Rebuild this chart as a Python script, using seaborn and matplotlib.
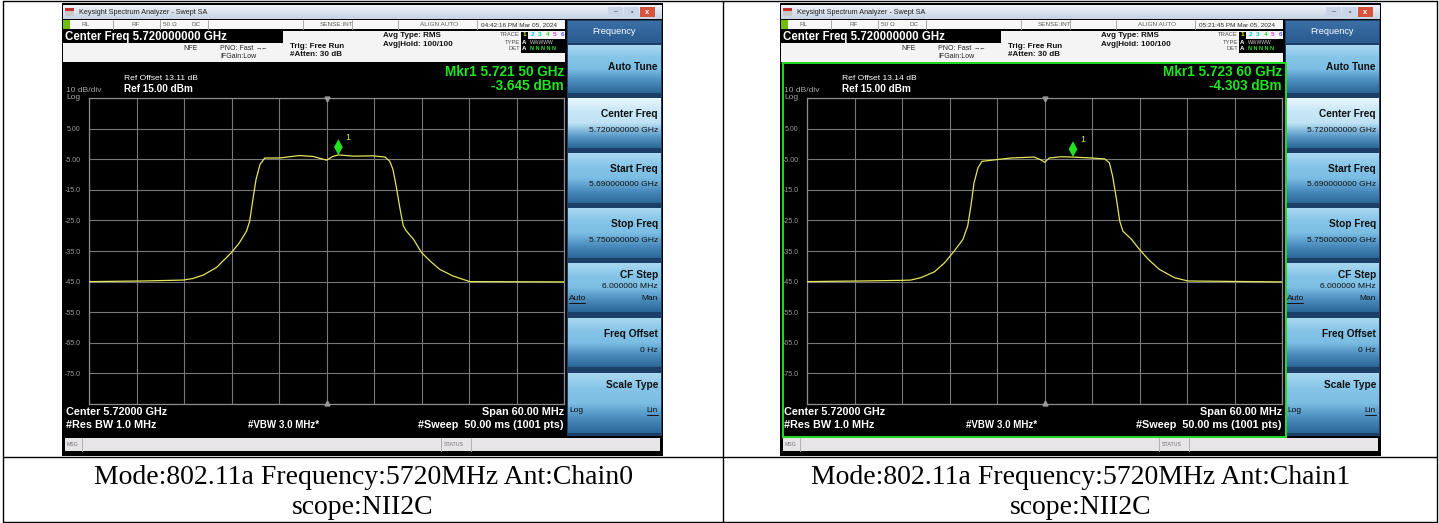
import numpy as np
import matplotlib.pyplot as plt
import seaborn as sns
from matplotlib.colors import LinearSegmentedColormap
from matplotlib.patches import Rectangle, Polygon

# ===============================
# data
# ===============================
freq_ch0 = [5690.0, 5696.8, 5701.9, 5703.1, 5704.4, 5706.1, 5708.0, 5709.0, 5709.9, 5710.3,
            5710.7, 5711.1, 5711.6, 5712.2, 5714.1, 5716.6, 5718.3, 5720.0, 5720.8, 5721.5,
            5723.4, 5725.9, 5727.4, 5728.0, 5728.4, 5728.8, 5729.3, 5729.7, 5730.1, 5731.0,
            5732.0, 5733.1, 5734.3, 5736.0, 5738.1, 5750.0]
level_ch0 = [-45.0, -44.8, -44.5, -44.0, -42.9, -40.4, -35.5, -32.3, -28.5, -25.2,
             -18.2, -11.6, -6.7, -4.6, -4.6, -3.8, -4.1, -5.3, -4.1, -3.6,
             -4.0, -3.9, -4.3, -5.7, -8.4, -13.8, -21.4, -26.8, -28.5, -31.2,
             -35.5, -38.3, -41.0, -43.2, -45.0, -45.1]

freq_ch1 = [5690.0, 5696.8, 5701.9, 5703.1, 5704.4, 5706.1, 5707.4, 5708.6, 5709.7, 5710.3,
            5710.7, 5711.1, 5711.6, 5712.1, 5714.1, 5715.8, 5718.7, 5719.6, 5720.0, 5720.6,
            5722.1, 5723.6, 5725.9, 5727.6, 5728.2, 5728.6, 5729.1, 5729.5, 5729.9, 5731.0,
            5732.0, 5733.1, 5734.5, 5736.4, 5738.1, 5750.0]
level_ch1 = [-45.0, -44.8, -44.6, -44.5, -43.7, -41.8, -38.8, -35.0, -31.2, -26.8,
             -20.3, -12.7, -7.8, -5.7, -5.1, -4.6, -4.3, -5.3, -6.0, -4.6,
             -4.2, -4.3, -4.6, -4.9, -6.2, -10.5, -18.2, -25.2, -28.5, -31.2,
             -34.5, -37.7, -41.0, -43.7, -44.8, -45.1]

marker_ch0 = (5721.5, -3.645)
marker_ch1 = (5723.6, -4.303)

y_ticks = [15, 5, -5, -15, -25, -35, -45, -55, -65, -75, -85]
y_tick_labels = ["", "5.00", "-5.00", "-15.0", "-25.0", "-35.0", "-45.0", "-55.0", "-65.0", "-75.0", ""]
x_ticks = [5690, 5696, 5702, 5708, 5714, 5720, 5726, 5732, 5738, 5744, 5750]

clocks = ["04:42:16 PM Mar 05, 2024", "05:21:45 PM Mar 05, 2024"]
ref_offsets = ["Ref Offset 13.11 dB", "Ref Offset 13.14 dB"]
mkr_freqs = ["Mkr1 5.721 50 GHz", "Mkr1 5.723 60 GHz"]
mkr_levels = ["-3.645 dBm", "-4.303 dBm"]
captions = ["Mode:802.11a Frequency:5720MHz Ant:Chain0", "Mode:802.11a Frequency:5720MHz Ant:Chain1"]
scope_text = "scope:NII2C"

softkeys = [("Auto Tune", None), ("Center Freq", "5.720000000 GHz"), ("Start Freq", "5.690000000 GHz"),
            ("Stop Freq", "5.750000000 GHz"), ("CF Step", "6.000000 MHz"), ("Freq Offset", "0 Hz"),
            ("Scale Type", None)]

# ===============================
# figure
# ===============================
sns.set_style("white")
plt.rcParams['font.family'] = ['Liberation Sans', 'DejaVu Sans']

W, H = 1439, 523
fig = plt.figure(figsize=(W / 100, H / 100), dpi=100)
bg = fig.add_axes([0, 0, 1, 1])
bg.set_xlim(0, W)
bg.set_ylim(H, 0)
bg.axis('off')

UI = ['Liberation Sans', 'DejaVu Sans']


def rect(x0, y0, x1, y1, color, z=1, **kw):
    bg.add_patch(Rectangle((x0, y0), x1 - x0, y1 - y0, facecolor=color, edgecolor='none', zorder=z, **kw))


def grad(x0, y0, x1, y1, colors, z=1):
    cmap = LinearSegmentedColormap.from_list('g', colors)
    bg.imshow(np.linspace(0, 1, 64).reshape(-1, 1), cmap=cmap, aspect='auto',
              extent=(x0, x1, y1, y0), origin='upper', zorder=z, interpolation='bilinear')


def txt(x, y, s, size, color='white', weight='normal', ha='left', va='center', z=5, family=None):
    bg.text(x, y, s, fontsize=size, color=color, fontweight=weight, ha=ha, va=va, zorder=z,
            family=family or UI)


def draw_screen(x0, idx, freqs, levels, marker, active):
    X = lambda d: x0 + d
    rect(X(0), 3, X(601), 456, '#000000', z=1)
    # title bar
    grad(X(1), 5, X(600), 19, ['#eef3f9', '#c6d3e3'], z=2)
    rect(X(3), 8, X(12), 16, '#c8c8c8', z=3)
    rect(X(3), 8, X(12), 11, '#c83030', z=3)
    txt(X(17), 12.5, "Keysight Spectrum Analyzer - Swept SA", 5.2, '#202020')
    for bx, bc in [(X(546), '#c9d6ea'), (X(562), '#c9d6ea'), (X(578), '#d8533c')]:
        rect(bx, 7, bx + 15, 17, bc, z=3)
    txt(X(553.5), 11.5, "–", 5, '#404040', ha='center')
    txt(X(569.5), 12, "▫", 5, '#404040', ha='center')
    txt(X(585.5), 12, "x", 5.5, 'white', ha='center', weight='bold')
    # status row
    rect(X(1), 20, X(503), 29, '#f7f7f7', z=2)
    rect(X(1), 20, X(8), 29, '#6dbf00', z=3)
    for sx in [51, 98, 146, 241, 290, 336, 415]:
        bg.plot([X(sx), X(sx)], [20, 29], color='#a8a8a8', lw=0.7, zorder=3)
    for sx, s in [(20, "RL"), (70, "RF"), (101, "50 Ω"), (130, "DC"), (258, "SENSE:INT"),
                  (358, "ALIGN AUTO")]:
        txt(X(sx), 24.8, s, 4.6, '#606060')
    txt(X(419), 24.8, clocks[idx], 4.6, '#303030')
    # header block
    rect(X(1), 31, X(503), 62, '#f4f4f4', z=2)
    rect(X(1), 31, X(221), 43, '#000000', z=3)
    txt(X(3), 37, "Center Freq 5.720000000 GHz", 8.3, 'white', 'bold')
    txt(X(121), 48, "NFE", 5, '#202020')
    txt(X(158), 48, "PNO: Fast", 5, '#202020')
    txt(X(194), 48, "→←", 4.5, '#202020')
    txt(X(158), 57, "IFGain:Low", 5, '#202020')
    txt(X(228), 46.5, "Trig: Free Run", 5.8, '#101010', 'bold')
    txt(X(228), 54.5, "#Atten: 30 dB", 5.8, '#101010', 'bold')
    txt(X(321), 35.5, "Avg Type: RMS", 5.8, '#101010', 'bold')
    txt(X(321), 44, "Avg|Hold: 100/100", 5.8, '#101010', 'bold')
    txt(X(458), 35, "TRACE", 4.2, '#505050', ha='right')
    txt(X(458), 42, "TYPE", 4.2, '#505050', ha='right')
    txt(X(458), 49, "DET", 4.2, '#505050', ha='right')
    rect(X(459), 38.5, X(503), 45.5, '#000000', z=3)
    rect(X(459), 45.8, X(503), 52.5, '#000000', z=3)
    rect(X(459), 31.5, X(466), 38.5, '#000000', z=3)
    for k, c in enumerate(['#f0f000', '#00c8ff', '#00d8b0', '#30e030', '#e040e0', '#6060ff']):
        txt(X(462.5 + k * 7.6), 35, str(k + 1), 4.6, c, 'bold', ha='center')
    txt(X(460), 42, "A", 4.4, 'white', 'bold')
    txt(X(468), 42, "WWWWW", 3.6, '#d0d0d0')
    txt(X(460), 49, "A", 4.4, 'white', 'bold')
    txt(X(468), 49, "N N N N N", 4.0, '#30e030', 'bold')
    # trace area labels
    txt(X(62), 78, ref_offsets[idx], 6.1, 'white')
    txt(X(62), 89, "Ref 15.00 dBm", 7.2, 'white', 'bold')
    txt(X(4), 90.5, "10 dB/div", 6.0, '#a8a8a8')
    txt(X(4), 97.5, "Log", 6.0, '#a8a8a8')
    txt(X(502), 72.5, mkr_freqs[idx], 9.8, '#1ee61e', 'bold', ha='right')
    txt(X(502), 86.5, mkr_levels[idx], 9.8, '#1ee61e', 'bold', ha='right')
    txt(X(4), 412, "Center 5.72000 GHz", 7.8, 'white', 'bold')
    txt(X(4), 425, "#Res BW 1.0 MHz", 7.8, 'white', 'bold')
    txt(X(186), 425, "#VBW 3.0 MHz*", 7.0, 'white', 'bold')
    txt(X(502), 412, "Span 60.00 MHz", 7.8, 'white', 'bold', ha='right')
    txt(X(502), 425, "#Sweep  50.00 ms (1001 pts)", 7.8, 'white', 'bold', ha='right')
    if active:
        bg.add_patch(Rectangle((X(3), 63), 503, 373.5, facecolor='none', edgecolor='#22dd22',
                               lw=1.4, zorder=4))
    # msg bar
    rect(X(3), 438, X(598), 451, '#e8e5e8', z=2)
    txt(X(5), 444.5, "MSG", 3.8, '#707070')
    txt(X(382), 444.5, "STATUS", 3.8, '#707070')
    for sx in [20, 379, 409]:
        bg.plot([X(sx), X(sx)], [438, 451], color='#b0b0b0', lw=0.7, zorder=3)
    # softkey panel
    rect(X(505), 20, X(600), 436, '#1c3f68', z=2)
    grad(X(506), 21, X(599), 43, ['#3a6fa6', '#2a5b8f'], z=3)
    txt(X(552), 32, "Frequency", 6.6, 'white', ha='center')
    spans = [(45, 93), (98, 148), (153, 203), (208, 258), (263, 312), (318, 367), (373, 433)]
    for k, ((label, value), (y0, y1)) in enumerate(zip(softkeys, spans)):
        if k == 1:
            cols = ['#e9f6fc', '#c8e8f7', '#c0e3f5', '#5f9fcc', '#2b6898']
        else:
            cols = ['#a9d8f0', '#86c5e8', '#7bbde3', '#4b8dbe', '#2b6898']
        grad(X(506), y0, X(599), y1, cols, z=3)
        xr = X(596)
        if label == "Auto Tune":
            txt(xr, 67, label, 7.3, '#101010', 'bold', ha='right')
        elif label == "Scale Type":
            txt(xr, 385, label, 7.3, '#101010', 'bold', ha='right')
            txt(X(507), 410, "Log", 6.0, '#101010')
            txt(xr, 410, "Lin", 6.0, '#101010', ha='right')
            bg.plot([xr - 11, xr], [414.5, 414.5], color='#101010', lw=0.7, zorder=5)
        elif label == "CF Step":
            txt(xr, y0 + 12, label, 7.3, '#101010', 'bold', ha='right')
            txt(xr, y0 + 24, value, 6.1, '#101010', ha='right')
            txt(X(507), y0 + 35, "Auto", 6.0, '#101010')
            txt(xr, y0 + 35, "Man", 6.0, '#101010', ha='right')
            bg.plot([X(507), X(523)], [y0 + 39.5, y0 + 39.5], color='#101010', lw=0.7, zorder=5)
        else:
            txt(xr, y0 + 16, label, 7.3, '#101010', 'bold', ha='right')
            txt(xr, y0 + 32, value, 6.1, '#101010', ha='right')

    # the trace plot itself
    gx0, gx1, gy0, gy1 = X(27), X(502), 98, 404
    ax = fig.add_axes([gx0 / W, (H - gy1) / H, (gx1 - gx0) / W, (gy1 - gy0) / H], zorder=10)
    ax.set_facecolor('black')
    sns.lineplot(x=freqs, y=levels, ax=ax, color='#e4e45c', lw=0.9, zorder=3)
    ax.set_xlim(x_ticks[0], x_ticks[-1])
    ax.set_ylim(y_ticks[-1], y_ticks[0])
    ax.set_xticks(x_ticks)
    ax.set_xticklabels([])
    ax.set_yticks(y_ticks)
    ax.set_yticklabels(y_tick_labels)
    ax.grid(True, color='#777777', lw=0.8)
    ax.tick_params(length=0, labelsize=5, labelcolor='#9c9c9c', pad=6)
    for s in ax.spines.values():
        s.set_color('#8c8c8c')
        s.set_linewidth(0.9)
    ax.set_xlabel('')
    ax.set_ylabel('')
    # marker diamond
    mf, ml = marker
    ax.add_patch(Polygon([(mf, ml), (mf - 0.55, ml + 2.6), (mf, ml + 5.2), (mf + 0.55, ml + 2.6)],
                         closed=True, facecolor='#22e022', edgecolor='none', zorder=5))
    ax.text(mf + 0.9, ml + 5.0, "1", fontsize=6.5, color='#e4e45c', zorder=5)
    ax.plot([5720], [14.6], marker='v', color='#9a9a9a', ms=3.5, zorder=4, clip_on=False)
    ax.plot([5720], [-84.6], marker='^', color='#9a9a9a', ms=3.5, zorder=4, clip_on=False)


draw_screen(62, 0, freq_ch0, level_ch0, marker_ch0, False)
draw_screen(780, 1, freq_ch1, level_ch1, marker_ch1, True)

# table borders and captions
for xx in [3, 723, 1437]:
    bg.plot([xx, xx], [1, 522], color='black', lw=1.0, zorder=6)
for yy in [1, 457, 522]:
    bg.plot([3, 1437], [yy, yy], color='black', lw=1.0, zorder=6)

for cx, cap in zip([363, 1081], captions):
    txt(cx, 478, cap, 20, '#000000', ha='center', family=['Liberation Serif', 'DejaVu Serif'])
    txt(cx, 507, scope_text, 20, '#000000', ha='center', family=['Liberation Serif', 'DejaVu Serif'])

bg.set_xlim(0, W)
bg.set_ylim(H, 0)
fig.savefig("out.png", dpi=100)
plt.close(fig)
